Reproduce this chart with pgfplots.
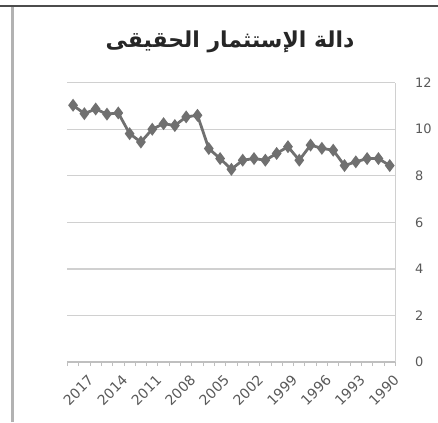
\documentclass[border=0pt]{standalone}
\usepackage{pgfplots}
\pgfplotsset{compat=1.18}
\usepackage{fontspec}
\setmainfont{Carlito}
\newfontfamily\tickfont{DejaVu Sans}
\newfontfamily\arabicfont[Script=Arabic]{DejaVu Sans}
\TeXXeTstate=1
\definecolor{gridgray}{HTML}{D0D0D0}
\definecolor{axisgray}{HTML}{BFBFBF}
\definecolor{textgray}{HTML}{595959}
\definecolor{linegray}{HTML}{707070}

\begin{document}
\begin{tikzpicture}[x=1bp,y=1bp]
\path[use as bounding box] (0,0) rectangle (438,422);
% frame pieces of the screenshot
\draw[color=black!70, line width=1.5bp] (0,416) -- (438,416);
\draw[color=black!30, line width=3bp] (12,0) -- (12,415);
% title
\node[font=\arabicfont\bfseries\fontsize{22}{26}\selectfont, text=black!85] at (230,380) {\beginR دالة الإستثمار الحقيقى\endR};
\begin{axis}[
  at={(67.4bp,60bp)}, anchor=south west,
  width=328bp, height=279.3bp, scale only axis,
  xmin=-0.5, xmax=28.5, ymin=0, ymax=12,
  axis x line*=bottom, axis y line*=right,
  x axis line style={color=axisgray, line width=1.2bp, -},
  y axis line style={color=gridgray, line width=1.3bp, -},
  ytick={0,2,...,12},
  ymajorgrids, grid style={color=gridgray, line width=1.3bp},
  major y tick style={draw=none},
  yticklabel style={xshift=12bp, text=textgray, font=\tickfont\fontsize{13}{15}\selectfont},
  /pgf/number format/assume math mode=true,
  xtick={1,4,...,28},
  xticklabels={2017,2014,2011,2008,2005,2002,1999,1996,1993,1990},
  major x tick style={draw=none},
  minor xtick={-0.5,0.5,...,28.5},
  minor tick length=4bp,
  minor x tick style={color=axisgray, line width=0.9bp},
  tick align=outside,
  xticklabel style={rotate=45, anchor=north east, text=textgray, font=\tickfont\fontsize{14}{16}\selectfont, yshift=-4bp, xshift=0bp},
]
\addplot[color=linegray, line width=2.8bp, mark=diamond*, mark size=4.2bp, mark options={solid}] coordinates {
  (0,11.03) (1,10.67) (2,10.87) (3,10.65) (4,10.70) (5,9.81) (6,9.45) (7,10.00)
  (8,10.24) (9,10.16) (10,10.53) (11,10.60) (12,9.17) (13,8.74) (14,8.28)
  (15,8.67) (16,8.74) (17,8.67) (18,8.96) (19,9.25) (20,8.67) (21,9.32)
  (22,9.18) (23,9.10) (24,8.44) (25,8.60) (26,8.74) (27,8.74) (28,8.44)
};
\end{axis}
\end{tikzpicture}
\end{document}
